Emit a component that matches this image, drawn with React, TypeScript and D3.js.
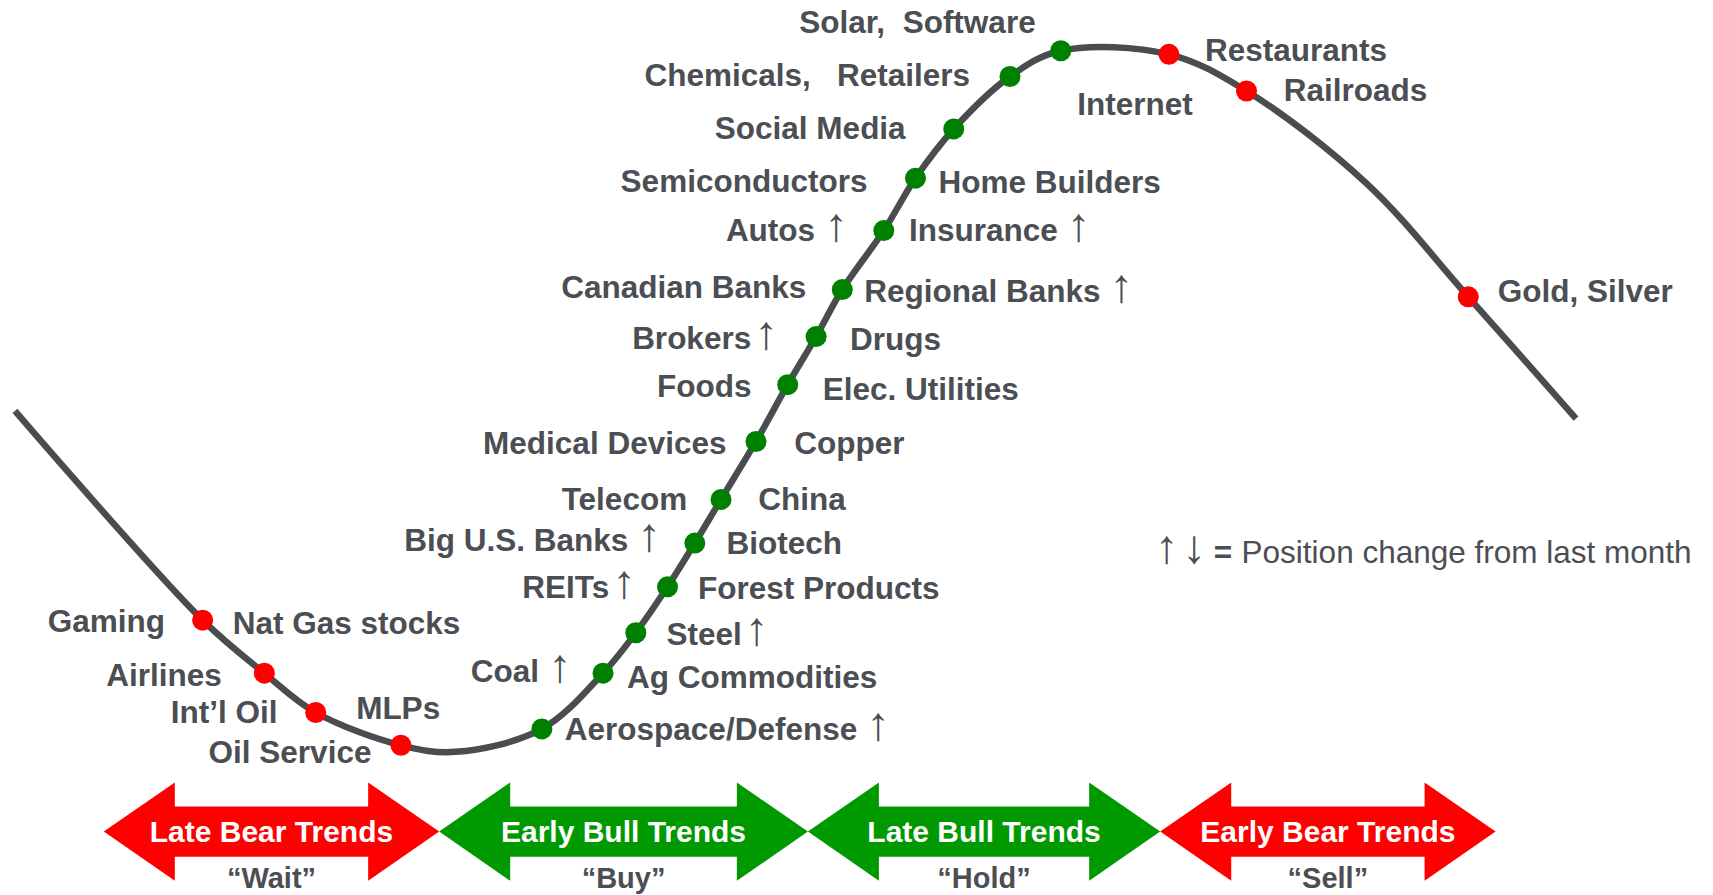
import React from "react";
import * as d3 from "d3";

const W = 1713;
const H = 895;

// Cycle curve (x position along cycle, level) in reference-picture units
const curveX = [13.7, 185.5, 242, 289, 367, 417, 496, 552, 582, 611, 636, 660, 692, 721, 747, 771, 809, 838, 873, 924.5, 971, 1070, 1141, 1251, 1344, 1442.6];
const curveY = [376, 567.5, 616, 652, 682, 688, 667, 616, 579, 537, 497, 457, 404, 352, 308, 265, 211, 163, 118, 70, 46.4, 49.7, 83.3, 168, 271.6, 383];

// Sector dots on the curve
const dotX = [185.5, 242, 289, 367, 496, 552, 582, 611, 636, 660, 692, 721, 747, 771, 809, 838, 873, 924.5, 971, 1070, 1141, 1344];
const dotY = [567.5, 616, 652, 682, 667, 616, 579, 537, 497, 457, 404, 352, 308, 265, 211, 163, 118, 70, 46.4, 49.7, 83.3, 271.6];
const dotPhase = ["bear", "bear", "bear", "bear", "bull", "bull", "bull", "bull", "bull", "bull", "bull", "bull", "bull", "bull", "bull", "bull", "bull", "bull", "bull", "bear", "bear", "bear"];

// Labels placed left of the curve (right-aligned)
const leftLabels = ["Gaming", "Airlines", "Int’l Oil", "Oil Service", "Coal ↑", "REITs↑", "Big U.S. Banks ↑", "Telecom", "Medical Devices", "Foods", "Brokers↑", "Canadian Banks", "Autos ↑", "Semiconductors", "Social Media", "Chemicals,   Retailers", "Solar,  Software"];
const leftX = [151, 203, 254, 340, 523.3, 582, 605, 629, 665, 688, 712, 738, 776, 794, 829, 888, 948];
const leftY = [568, 617, 651, 688, 614, 537, 494, 456, 405, 353, 309, 262, 210, 165, 117, 68, 20];

// Labels placed right of the curve (left-aligned)
const rightLabels = ["Nat Gas stocks", "MLPs", "Aerospace/Defense ↑", "Ag Commodities", "Steel↑", "Forest Products", "Biotech", "China", "Copper", "Elec. Utilities", "Drugs", "Regional Banks ↑", "Insurance ↑", "Home Builders", "Internet", "Restaurants", "Railroads", "Gold, Silver"];
const rightX = [213, 326, 517, 574, 610, 639, 665, 694, 727, 753, 778, 791, 832, 859, 986, 1103, 1175, 1371];
const rightY = [570, 648, 667, 619, 580, 538, 497, 456, 405, 356, 310, 266, 210, 166, 95, 45, 82, 266];

// Stage arrows
const stages = ["Late Bear Trends", "Early Bull Trends", "Late Bull Trends", "Early Bear Trends"];
const stageActions = ["“Wait”", "“Buy”", "“Hold”", "“Sell”"];
const stageStart = [95, 402, 739.5, 1062];
const stageEnd = [402, 739.5, 1062, 1369];
const stagePhase = ["bear", "bull", "bull", "bear"];

const legendText = "Position change from last month";

const TEXT = "#4b4e53";
const FONT = "'Liberation Sans', Arial, Helvetica, sans-serif";
const ARROW = "↑";

export default function App() {
  const x = d3.scaleLinear().domain([0, 1568]).range([0, W]);
  const y = d3.scaleLinear().domain([0, 819]).range([0, H]);
  const dotColor = d3.scaleOrdinal<string, string>().domain(["bull", "bear"]).range(["#008000", "#ff0000"]);
  const arrowColor = d3.scaleOrdinal<string, string>().domain(["bull", "bear"]).range(["#009900", "#ff0000"]);

  const pts: [number, number][] = curveX.map((v, i) => [v, curveY[i]]);
  const line = d3
    .line<[number, number]>()
    .x((d) => x(d[0]))
    .y((d) => y(d[1]))
    .curve(d3.curveCatmullRom.alpha(0.5));

  const headLen = 65;
  const headTop = 716;
  const headBot = 806;
  const shaftTop = 738;
  const shaftBot = 784;
  const mid = (headTop + headBot) / 2;

  const arrowPath = (s: number, e: number) => {
    const p: [number, number][] = [
      [s, mid],
      [s + headLen, headTop],
      [s + headLen, shaftTop],
      [e - headLen, shaftTop],
      [e - headLen, headTop],
      [e, mid],
      [e - headLen, headBot],
      [e - headLen, shaftBot],
      [s + headLen, shaftBot],
      [s + headLen, headBot],
    ];
    return (
      d3
        .line<[number, number]>()
        .x((d) => x(d[0]))
        .y((d) => y(d[1]))(p) + "Z"
    );
  };

  const fs = 31.5;
  const afs = fs * 1.5;

  const renderLabel = (t: string) => {
    if (!t.endsWith(ARROW)) return t;
    const base = t.slice(0, -1);
    const spaced = base.endsWith(" ");
    return (
      <>
        {base.trimEnd()}
        <tspan fontWeight="normal" fontSize={afs} dx={spaced ? 9 : 3}>
          {ARROW}
        </tspan>
      </>
    );
  };

  return (
    <svg
      width={W}
      height={H}
      style={{ position: "absolute", left: 0, top: 0, display: "block", background: "#fff" }}
      fontFamily={FONT}
    >
      <path d={line(pts) || ""} fill="none" stroke="#4a4c50" strokeWidth={6.5} />
      {dotX.map((v, i) => (
        <circle key={"d" + i} cx={x(v)} cy={y(dotY[i])} r={10.5} fill={dotColor(dotPhase[i])} />
      ))}
      {leftLabels.map((t, i) => (
        <text
          key={"l" + i}
          x={x(leftX[i])}
          y={y(leftY[i]) + fs * 0.36}
          textAnchor="end"
          fontSize={fs}
          fontWeight="bold"
          fill={TEXT}
          style={{ whiteSpace: "pre" }}
        >
          {renderLabel(t)}
        </text>
      ))}
      {rightLabels.map((t, i) => (
        <text
          key={"r" + i}
          x={x(rightX[i])}
          y={y(rightY[i]) + fs * 0.36}
          textAnchor="start"
          fontSize={fs}
          fontWeight="bold"
          fill={TEXT}
          style={{ whiteSpace: "pre" }}
        >
          {renderLabel(t)}
        </text>
      ))}
      <text x={x(1057)} y={y(505) + fs * 0.36} fontSize={afs} fill={TEXT}>
        ↑<tspan dx={4}>↓</tspan>
      </text>
      <text x={x(1111)} y={y(505) + fs * 0.36} fontSize={fs} fontWeight="bold" fill={TEXT}>
        =
      </text>
      <text x={x(1136.5)} y={y(505) + fs * 0.36} fontSize={fs} fill={TEXT}>
        {legendText}
      </text>
      {stages.map((s, i) => {
        const cx = (stageStart[i] + stageEnd[i]) / 2;
        return (
          <g key={"s" + i}>
            <path d={arrowPath(stageStart[i], stageEnd[i])} fill={arrowColor(stagePhase[i])} />
            <text
              x={x(cx)}
              y={y(mid) + 30 * 0.36}
              textAnchor="middle"
              fontSize={30}
              fontWeight="bold"
              fill="#ffffff"
            >
              {s}
            </text>
            <text
              x={x(cx)}
              y={y(803) + 29 * 0.36}
              textAnchor="middle"
              fontSize={29}
              fontWeight="bold"
              fill={TEXT}
            >
              {stageActions[i]}
            </text>
          </g>
        );
      })}
    </svg>
  );
}
